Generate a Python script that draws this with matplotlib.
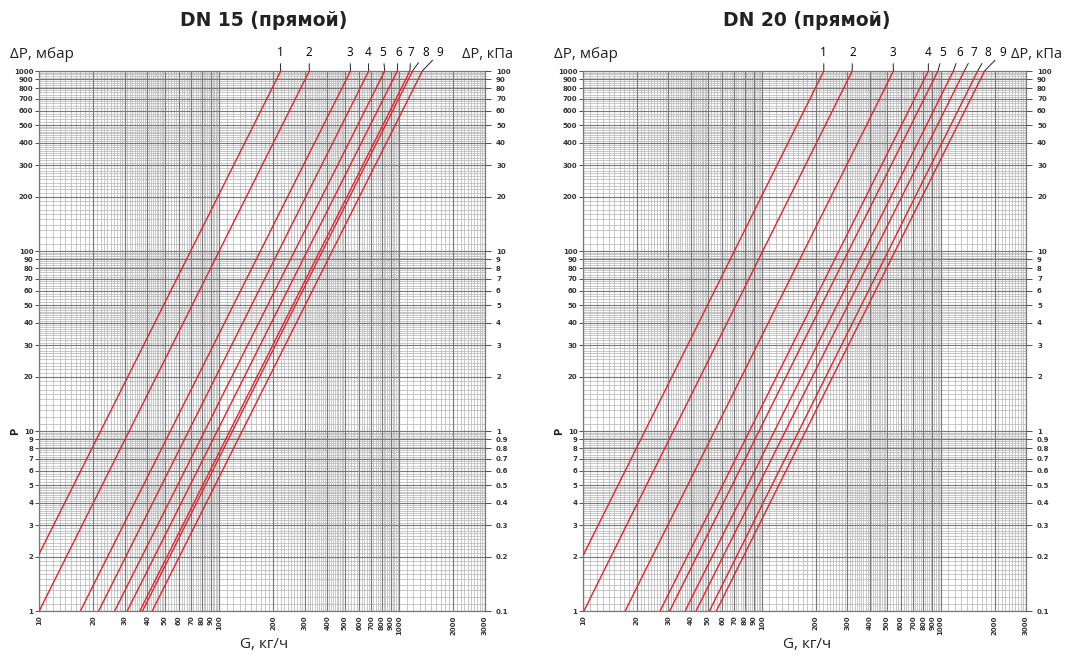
import numpy as np
import matplotlib
matplotlib.use("Agg")
import matplotlib.pyplot as plt
from matplotlib.ticker import FixedLocator, FixedFormatter, NullFormatter

# Kv of the valve settings 1..9 (G in kg/h at 1000 mbar = 1000 * Kv)
LINE_NAMES = ["1", "2", "3", "4", "5", "6", "7", "8", "9"]
DN15_KV = [0.220, 0.317, 0.537, 0.678, 0.832, 0.977, 1.148, 1.188, 1.345]
DN20_KV = [0.222, 0.320, 0.544, 0.853, 0.965, 1.177, 1.355, 1.610, 1.760]

G_TICKS = [10, 20, 30, 40, 50, 60, 70, 80, 90, 100, 200, 300, 400, 500,
           600, 700, 800, 900, 1000, 2000, 3000]
DP_MBAR_TICKS = [1, 2, 3, 4, 5, 6, 7, 8, 9, 10, 20, 30, 40, 50, 60, 70, 80,
                 90, 100, 200, 300, 400, 500, 600, 700, 800, 900, 1000]

TITLES = ["DN 15 (прямой)", "DN 20 (прямой)"]

RED = "#e3232b"
FS = "DejaVu Sans"
TXT = "Open Sans"


def grid_values(lo, hi):
    # log paper subdivision: 0.1 steps up to 5, 0.2 steps from 5 to 10
    mant = list(np.arange(1.1, 5.0, 0.1)) + list(np.arange(5.2, 10.0, 0.2))
    vals = []
    dec = 10 ** np.floor(np.log10(lo))
    while dec < hi:
        for m in mant:
            v = round(m * dec, 6)
            if abs(m - round(m)) > 1e-6 and lo <= v <= hi:
                vals.append(v)
        dec *= 10
    return vals


def draw_grid(ax, x_lim, y_lim):
    for v in grid_values(*x_lim):
        ax.axvline(v, color="#bebebe", lw=0.6, zorder=1)
    for v in grid_values(*y_lim):
        ax.axhline(v, color="#bebebe", lw=0.6, zorder=1)
    for v in G_TICKS:
        ax.axvline(v, color="#7a7a7a", lw=0.85, zorder=2)
    for v in DP_MBAR_TICKS:
        ax.axhline(v, color="#7a7a7a", lw=0.85, zorder=2)


def draw_panel(ax, kv_values, label_g):
    x_lim = (10, 3000)
    y_lim = (1, 1000)
    ax.set_xscale("log")
    ax.set_yscale("log")
    ax.set_xlim(*x_lim)
    ax.set_ylim(*y_lim)
    draw_grid(ax, x_lim, y_lim)

    for name, kv, lg in zip(LINE_NAMES, kv_values, label_g):
        g_hi = 1000 * kv
        g_lo = max(x_lim[0], kv * np.sqrt(1000))
        g = np.array([g_lo, g_hi])
        dp = g ** 2 / (1000 * kv ** 2)
        ax.plot(g, dp, color=RED, lw=1.0, zorder=5, solid_capstyle="butt")
        ax.annotate(name, xy=(g_hi, 1000), xytext=(lg, 1270),
                    textcoords="data", ha="center", va="center",
                    fontsize=8.5, family=TXT, annotation_clip=False,
                    arrowprops=dict(arrowstyle="-", lw=0.7, color="#222222",
                                    shrinkA=1.5, shrinkB=0))

    for s in ax.spines.values():
        s.set_color("#7a7a7a")
        s.set_linewidth(0.9)

    ax.xaxis.set_major_locator(FixedLocator(G_TICKS))
    ax.xaxis.set_major_formatter(FixedFormatter([str(v) for v in G_TICKS]))
    ax.xaxis.set_minor_formatter(NullFormatter())
    ax.yaxis.set_major_locator(FixedLocator(DP_MBAR_TICKS))
    ax.yaxis.set_major_formatter(FixedFormatter([str(v) for v in DP_MBAR_TICKS]))
    ax.yaxis.set_minor_formatter(NullFormatter())
    ax.tick_params(which="minor", length=0)
    ax.tick_params(axis="x", which="major", length=0, pad=3,
                   labelsize=5, labelrotation=90, colors="#333333")
    ax.tick_params(axis="y", which="major", length=3, width=0.6, pad=1,
                   labelsize=5, colors="#333333")
    for lab in ax.get_xticklabels() + ax.get_yticklabels():
        lab.set_fontweight("bold")
        lab.set_family(FS)

    ax2 = ax.twinx()
    ax2.set_yscale("log")
    ax2.set_ylim(y_lim[0] / 10, y_lim[1] / 10)
    kpa = [v / 10 for v in DP_MBAR_TICKS]
    ax2.yaxis.set_major_locator(FixedLocator(kpa))
    ax2.yaxis.set_major_formatter(FixedFormatter([f"{v:g}" for v in kpa]))
    ax2.yaxis.set_minor_formatter(NullFormatter())
    ax2.tick_params(which="minor", length=0)
    ax2.tick_params(axis="y", which="major", length=4, width=0.6, pad=4,
                    labelsize=5, colors="#333333")
    for lab in ax2.get_yticklabels():
        lab.set_fontweight("bold")
        lab.set_family(FS)
    for s in ax2.spines.values():
        s.set_visible(False)


fig = plt.figure(figsize=(10.67, 6.55), dpi=100)
W, H = 1067, 655

panels = [
    (39, 485, 513, DN15_KV, [218, 317, 534, 671, 813, 991, 1164, 1407, 1690]),
    (583, 1026, 1062, DN20_KV, [222, 321, 541, 854, 1030, 1285, 1540, 1845, 2220]),
]

for (x0, x1, kpa_right, kv, label_g), title in zip(panels, TITLES):
    ax = fig.add_axes([x0 / W, (H - 611) / H, (x1 - x0) / W, 540 / H])
    draw_panel(ax, kv, label_g)
    cx = (x0 + x1) / 2 / W + 0.002
    fig.text(cx, 1 - 21 / H, title, ha="center", va="center",
             fontsize=13.5, fontweight="bold", family=FS, color="#222222")
    fig.text((x0 - 29) / W, 1 - 55 / H, "ΔP, мбар", ha="left", va="center",
             fontsize=11, family=TXT, color="#222222")
    fig.text(kpa_right / W, 1 - 55 / H, "ΔP, кПа", ha="right", va="center",
             fontsize=10.5, family=TXT, color="#222222")
    fig.text(cx, 1 - 645 / H, "G, кг/ч", ha="center", va="center",
             fontsize=11, family=TXT, color="#222222")
    fig.text((x0 - 24) / W, 1 - 431 / H, "P", ha="center", va="center",
             rotation=90, fontsize=7, fontweight="bold", family=FS,
             color="#222222")

fig.savefig("out.png", dpi=100)
